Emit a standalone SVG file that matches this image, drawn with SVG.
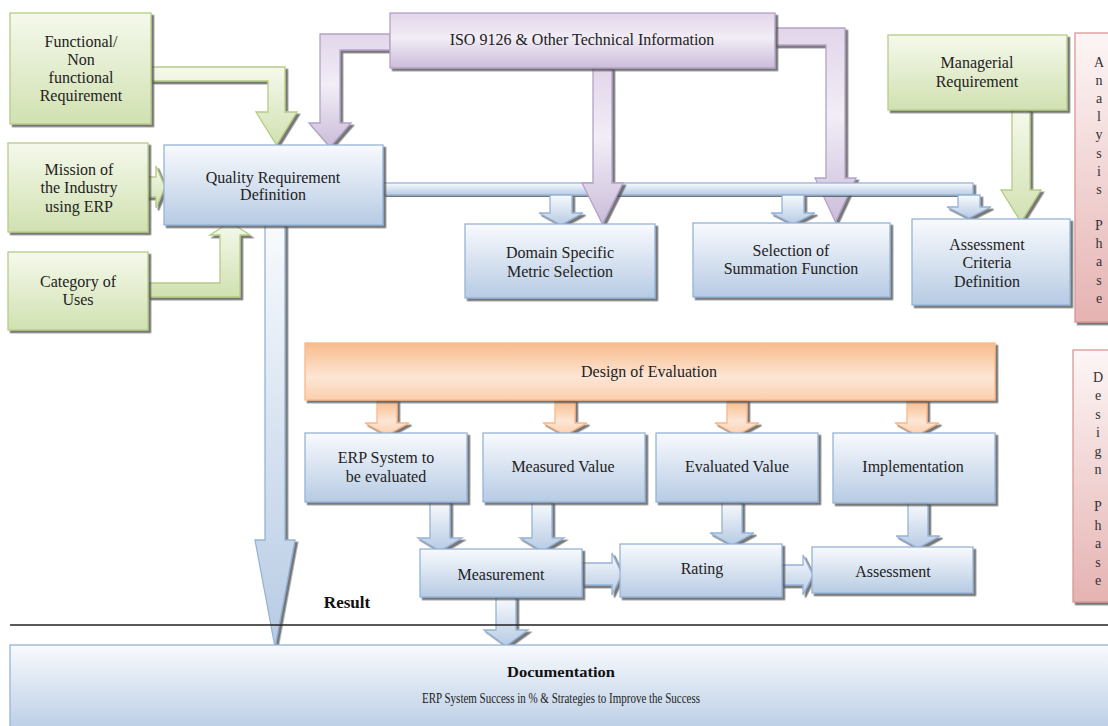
<svg xmlns="http://www.w3.org/2000/svg" width="1108" height="726" viewBox="0 0 1108 726">
<defs>
<linearGradient id="gGreen" x1="0" y1="0" x2="0" y2="1"><stop offset="0" stop-color="#f5f9ec"/><stop offset="1" stop-color="#d1e1b1"/></linearGradient>
<linearGradient id="gBlue" x1="0" y1="0" x2="0" y2="1"><stop offset="0" stop-color="#f8fafd"/><stop offset="1" stop-color="#b7cbe4"/></linearGradient>
<linearGradient id="gPurple" x1="0" y1="0" x2="0" y2="1"><stop offset="0" stop-color="#e2d6ea"/><stop offset="0.45" stop-color="#f2edf6"/><stop offset="1" stop-color="#cbbdda"/></linearGradient>
<linearGradient id="gOrange" x1="0" y1="0" x2="0" y2="1"><stop offset="0" stop-color="#f8bb8a"/><stop offset="0.6" stop-color="#fde6d5"/><stop offset="1" stop-color="#fbcfad"/></linearGradient>
<linearGradient id="gRed" x1="0" y1="0" x2="0" y2="1"><stop offset="0" stop-color="#fdf6f6"/><stop offset="1" stop-color="#e5b3b2"/></linearGradient>
<filter id="sh" x="-5%" y="-5%" width="115%" height="120%"><feDropShadow dx="2.5" dy="2.5" stdDeviation="0.7" flood-color="#4a4a4a" flood-opacity="0.75"/></filter>
<style>
.t{font-family:"Liberation Serif","Times New Roman",serif;font-size:16px;fill:#222;text-anchor:middle}
.p{font-family:"Liberation Serif","Times New Roman",serif;font-size:14px;fill:#333;text-anchor:middle}
.b{font-weight:bold;fill:#111}
.green{fill:url(#gGreen);stroke:#b5cc86;stroke-width:1.3;filter:url(#sh)}
.blue{fill:url(#gBlue);stroke:#95b3d7;stroke-width:1.3;filter:url(#sh)}
.purple{fill:url(#gPurple);stroke:#b3a2c7;stroke-width:1.3;filter:url(#sh)}
.orange{fill:url(#gOrange);stroke:#f9b88a;stroke-width:1.3;filter:url(#sh)}
.red{fill:url(#gRed);stroke:#d99795;stroke-width:1.3;filter:url(#sh)}
</style>
</defs>
<rect width="1108" height="726" fill="#ffffff"/>

<g id="connectors">
  <polygon class="green" points="151,67 285,67 285,112 297,112 276.5,145 256,112 268,112 268,81 151,81"/>
  <polygon class="green" points="143,177 156,177 156,166 165,187 156,208 156,197 143,197"/>
  <polygon class="green" points="148,283 220,283 220,235 210,235 230,222 250,235 240,235 240,297 148,297"/>
  <polygon class="purple" points="390,34 320,34 320,123 309,123 330,147 351,123 340,123 340,50 390,50"/>
  <polygon class="purple" points="775,28 845,28 845,178 856,178 835.5,222 815,178 826,178 826,45 775,45"/>
  <polygon class="green" points="1012,110 1030,110 1030,190 1041,190 1021,222 1001,190 1012,190"/>
  <rect class="blue" x="383" y="183" width="590" height="12"/>
  <polygon class="blue" points="550,195 572,195 572,213 583,213 561,225 539,213 550,213"/>
  <polygon class="blue" points="782,195 804,195 804,213 815,213 793,224 771,213 782,213"/>
  <polygon class="blue" points="958,195 980,195 980,207 991,207 969,218 947,207 958,207"/>
  <polygon class="purple" points="593,68 612,68 612,183 623,183 602.5,224 582,183 593,183"/>
  <polygon class="blue" points="265,225 285,225 285,540 295,540 275,647 255,540 265,540"/>
  <polygon class="orange" points="377,400 397,400 397,423 409,423 387,435 365,423 377,423"/>
  <polygon class="orange" points="555,400 575,400 575,423 587,423 565,435 543,423 555,423"/>
  <polygon class="orange" points="727,400 747,400 747,423 759,423 737,435 715,423 727,423"/>
  <polygon class="orange" points="907,400 927,400 927,423 939,423 917,435 895,423 907,423"/>
  <polygon class="blue" points="430,502 450,502 450,538 462,538 440,551 418,538 430,538"/>
  <polygon class="blue" points="532,502 552,502 552,538 564,538 542,551 520,538 532,538"/>
  <polygon class="blue" points="722,502 742,502 742,533 754,533 732,545 710,533 722,533"/>
  <polygon class="blue" points="908,503 928,503 928,536 940,536 918,548 896,536 908,536"/>
  <polygon class="blue" points="582,563 612,563 612,553 622,574 612,595 612,585 582,585"/>
  <polygon class="blue" points="782,565 803,565 803,555 813,575 803,595 803,585 782,585"/>
  <polygon class="blue" points="496,597 516,597 516,630 528,630 506,646 484,630 496,630"/>
  <line x1="10" y1="625" x2="1108" y2="625" stroke="#222" stroke-width="1.6"/>
</g>

<g id="functional"><rect class="green" x="10" y="13" width="141" height="111"/>
<text class="t" x="81" y="47">Functional/</text><text class="t" x="81" y="65">Non</text><text class="t" x="81" y="83">functional</text><text class="t" x="81" y="101">Requirement</text></g>
<g id="mission"><rect class="green" x="8" y="143" width="140" height="89"/>
<text class="t" x="79" y="175">Mission of</text><text class="t" x="79" y="193">the Industry</text><text class="t" x="79" y="212">using ERP</text></g>
<g id="category"><rect class="green" x="8" y="252" width="140" height="78"/>
<text class="t" x="78" y="287">Category of</text><text class="t" x="78" y="305">Uses</text></g>
<g id="quality"><rect class="blue" x="164" y="145" width="219" height="80"/>
<text class="t" x="273" y="183">Quality Requirement</text><text class="t" x="273" y="200">Definition</text></g>
<g id="iso"><rect class="purple" x="390" y="13" width="385" height="55"/>
<text class="t" x="582" y="45">ISO 9126 &amp; Other Technical Information</text></g>
<g id="managerial"><rect class="green" x="888" y="35" width="179" height="75"/>
<text class="t" x="977" y="68">Managerial</text><text class="t" x="977" y="87">Requirement</text></g>
<g id="domain"><rect class="blue" x="465" y="224" width="190" height="74"/>
<text class="t" x="560" y="258">Domain Specific</text><text class="t" x="560" y="277">Metric Selection</text></g>
<g id="selection"><rect class="blue" x="693" y="223" width="197" height="74"/>
<text class="t" x="791" y="256">Selection of</text><text class="t" x="791" y="274">Summation Function</text></g>
<g id="criteria"><rect class="blue" x="912" y="219" width="158" height="86"/>
<text class="t" x="987" y="250">Assessment</text><text class="t" x="987" y="268">Criteria</text><text class="t" x="987" y="287">Definition</text></g>
<g id="analysis-phase"><rect class="red" x="1075" y="33" width="45" height="289"/>
<text class="p" x="1099"><tspan x="1099" y="67">A</tspan><tspan x="1099" y="85">n</tspan><tspan x="1099" y="103">a</tspan><tspan x="1099" y="121">l</tspan><tspan x="1099" y="139">y</tspan><tspan x="1099" y="158">s</tspan><tspan x="1099" y="176">i</tspan><tspan x="1099" y="194">s</tspan><tspan x="1099" y="230">P</tspan><tspan x="1099" y="248">h</tspan><tspan x="1099" y="266">a</tspan><tspan x="1099" y="285">s</tspan><tspan x="1099" y="303">e</tspan></text></g>
<g id="design-evaluation"><rect class="orange" x="305" y="343" width="690" height="57"/>
<text class="t" x="649" y="377">Design of Evaluation</text></g>
<g id="design-phase"><rect class="red" x="1073" y="350" width="47" height="252"/>
<text class="p" x="1098"><tspan x="1098" y="382">D</tspan><tspan x="1098" y="400">e</tspan><tspan x="1098" y="419">s</tspan><tspan x="1098" y="437">i</tspan><tspan x="1098" y="456">g</tspan><tspan x="1098" y="474">n</tspan><tspan x="1098" y="511">P</tspan><tspan x="1098" y="530">h</tspan><tspan x="1098" y="548">a</tspan><tspan x="1098" y="567">s</tspan><tspan x="1098" y="585">e</tspan></text></g>
<g id="erp-system"><rect class="blue" x="305" y="433" width="162" height="69"/>
<text class="t" x="386" y="463">ERP System to</text><text class="t" x="386" y="482">be evaluated</text></g>
<g id="measured"><rect class="blue" x="483" y="433" width="162" height="69"/>
<text class="t" x="563" y="472">Measured Value</text></g>
<g id="evaluated"><rect class="blue" x="656" y="433" width="162" height="69"/>
<text class="t" x="737" y="472">Evaluated Value</text></g>
<g id="implementation"><rect class="blue" x="833" y="433" width="162" height="70"/>
<text class="t" x="913" y="472">Implementation</text></g>
<g id="measurement"><rect class="blue" x="420" y="549" width="162" height="48"/>
<text class="t" x="501" y="580">Measurement</text></g>
<g id="rating"><rect class="blue" x="620" y="544" width="162" height="53"/>
<text class="t" x="702" y="574">Rating</text></g>
<g id="assessment"><rect class="blue" x="812" y="547" width="161" height="46"/>
<text class="t" x="893" y="577">Assessment</text></g>
<g id="result"><text class="t b" x="347" y="608" style="font-size:17px">Result</text></g>
<g id="documentation"><rect class="blue" x="10" y="645" width="1110" height="90"/>
<text class="t b" x="561" y="677" style="font-size:15px" textLength="108" lengthAdjust="spacingAndGlyphs">Documentation</text>
<text class="t" x="561" y="703" style="font-size:14px" textLength="278" lengthAdjust="spacingAndGlyphs">ERP System Success in % &amp; Strategies to Improve the Success</text></g>
</svg>
